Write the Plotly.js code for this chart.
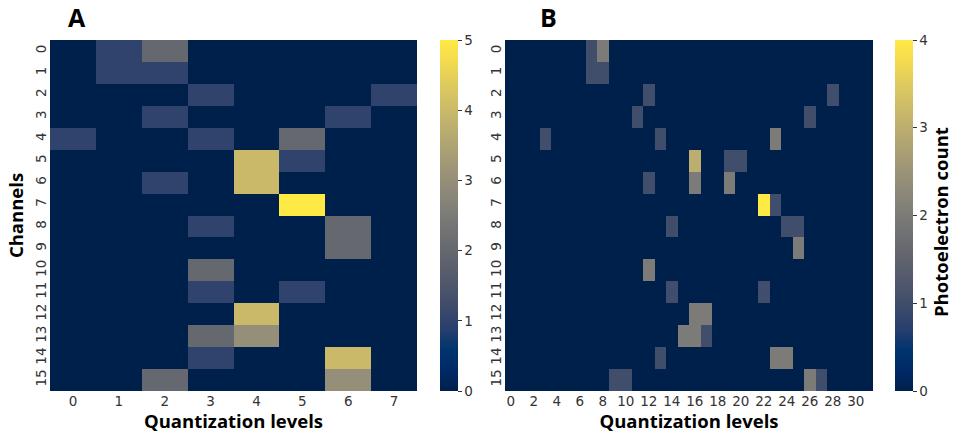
<!DOCTYPE html>
<html>
<head>
<meta charset="utf-8">
<script src="https://cdn.plot.ly/plotly-3.0.1.min.js"></script>
<style>html,body{margin:0;padding:0;background:#fff}#chart{width:954px;height:442px}</style>
</head>
<body>
<div id="chart"></div>
<script>
// ---- data ----
const channels = ["0","1","2","3","4","5","6","7","8","9","10","11","12","13","14","15"];
const levelsA = [0,1,2,3,4,5,6,7];
const levelsB = Array.from({length:32},(_,i)=>i);
const ticksB = [0,2,4,6,8,10,12,14,16,18,20,22,24,26,28,30];

// Panel A: photoelectron counts [channel][level 0..7]
const countsA = [
  [0,1,2,0,0,0,0,0],
  [0,1,1,0,0,0,0,0],
  [0,0,0,1,0,0,0,1],
  [0,0,1,0,0,0,1,0],
  [1,0,0,1,0,2,0,0],
  [0,0,0,0,4,1,0,0],
  [0,0,1,0,4,0,0,0],
  [0,0,0,0,0,5,0,0],
  [0,0,0,1,0,0,2,0],
  [0,0,0,0,0,0,2,0],
  [0,0,0,2,0,0,0,0],
  [0,0,0,1,0,1,0,0],
  [0,0,0,0,4,0,0,0],
  [0,0,0,2,3,0,0,0],
  [0,0,0,1,0,0,4,0],
  [0,0,2,0,0,0,3,0]
];

// Panel B: photoelectron counts [channel][level 0..31]
const countsB = [
  [0,0,0,0,0,0,0,1,2,0,0,0,0,0,0,0,0,0,0,0,0,0,0,0,0,0,0,0,0,0,0,0],
  [0,0,0,0,0,0,0,1,1,0,0,0,0,0,0,0,0,0,0,0,0,0,0,0,0,0,0,0,0,0,0,0],
  [0,0,0,0,0,0,0,0,0,0,0,0,1,0,0,0,0,0,0,0,0,0,0,0,0,0,0,0,1,0,0,0],
  [0,0,0,0,0,0,0,0,0,0,0,1,0,0,0,0,0,0,0,0,0,0,0,0,0,0,1,0,0,0,0,0],
  [0,0,0,1,0,0,0,0,0,0,0,0,0,1,0,0,0,0,0,0,0,0,0,2,0,0,0,0,0,0,0,0],
  [0,0,0,0,0,0,0,0,0,0,0,0,0,0,0,0,3,0,0,1,1,0,0,0,0,0,0,0,0,0,0,0],
  [0,0,0,0,0,0,0,0,0,0,0,0,1,0,0,0,2,0,0,2,0,0,0,0,0,0,0,0,0,0,0,0],
  [0,0,0,0,0,0,0,0,0,0,0,0,0,0,0,0,0,0,0,0,0,0,4,1,0,0,0,0,0,0,0,0],
  [0,0,0,0,0,0,0,0,0,0,0,0,0,0,1,0,0,0,0,0,0,0,0,0,1,1,0,0,0,0,0,0],
  [0,0,0,0,0,0,0,0,0,0,0,0,0,0,0,0,0,0,0,0,0,0,0,0,0,2,0,0,0,0,0,0],
  [0,0,0,0,0,0,0,0,0,0,0,0,2,0,0,0,0,0,0,0,0,0,0,0,0,0,0,0,0,0,0,0],
  [0,0,0,0,0,0,0,0,0,0,0,0,0,0,1,0,0,0,0,0,0,0,1,0,0,0,0,0,0,0,0,0],
  [0,0,0,0,0,0,0,0,0,0,0,0,0,0,0,0,2,2,0,0,0,0,0,0,0,0,0,0,0,0,0,0],
  [0,0,0,0,0,0,0,0,0,0,0,0,0,0,0,2,2,1,0,0,0,0,0,0,0,0,0,0,0,0,0,0],
  [0,0,0,0,0,0,0,0,0,0,0,0,0,1,0,0,0,0,0,0,0,0,0,2,2,0,0,0,0,0,0,0],
  [0,0,0,0,0,0,0,0,0,1,1,0,0,0,0,0,0,0,0,0,0,0,0,0,0,0,2,1,0,0,0,0]
];

// ---- styling ----
const W = 954, H = 442;
const tickFont = {family:"DejaVu Sans", size:13.5, color:"#333"};
const boldFont = {family:"Open Sans", size:18.5, color:"#000", weight:700};
const yTop = 1 - 40/H, yBot = 1 - 391/H;

const traceA = {
  type:"heatmap", z: countsA, x: levelsA, y: channels,
  xaxis:"x", yaxis:"y", coloraxis:"coloraxis"
};
const traceB = {
  type:"heatmap", z: countsB, x: levelsB, y: channels,
  xaxis:"x2", yaxis:"y2", coloraxis:"coloraxis2"
};

const cbCommon = {
  thickness:18, len:(391-40)/H, lenmode:"fraction", y:yBot, yanchor:"bottom",
  xanchor:"left", xpad:0, ypad:0, outlinewidth:0, ticks:"outside", ticklen:4, tickwidth:1,
  tickcolor:"#333", tickfont:tickFont
};

const layout = {
  width:W, height:H,
  margin:{l:0,r:0,t:0,b:0},
  paper_bgcolor:"#fff", plot_bgcolor:"#fff",
  font:{family:"DejaVu Sans"},
  xaxis:{domain:[50/W,417/W], anchor:"y", tickvals:levelsA, ticks:"", showgrid:false, zeroline:false,
         tickfont:tickFont, title:{text:"Quantization levels", font:boldFont, standoff:4}},
  yaxis:{domain:[yBot,yTop], anchor:"x", type:"category", autorange:"reversed", ticks:"", showgrid:false,
         tickangle:-90, tickfont:tickFont, title:{text:"Channels", font:boldFont, standoff:4}},
  xaxis2:{domain:[505/W,873/W], anchor:"y2", tickvals:ticksB, ticks:"", showgrid:false, zeroline:false,
         tickfont:tickFont, title:{text:"Quantization levels", font:boldFont, standoff:4}},
  yaxis2:{domain:[yBot,yTop], anchor:"x2", type:"category", autorange:"reversed", ticks:"", showgrid:false,
         tickangle:-90, tickfont:tickFont},
  coloraxis:{colorscale:"Cividis", cmin:0, cmax:5,
    colorbar:Object.assign({}, cbCommon, {x:440/W, tickvals:[0,1,2,3,4,5]})},
  coloraxis2:{colorscale:"Cividis", cmin:0, cmax:4,
    colorbar:Object.assign({}, cbCommon, {x:895/W, tickvals:[0,1,2,3,4]})},
  annotations:[
    {text:"A", xref:"paper", yref:"paper", x:66/W, y:1-17/H, xanchor:"left", yanchor:"middle",
     showarrow:false, font:{family:"Open Sans", size:25, color:"#000", weight:700}},
    {text:"B", xref:"paper", yref:"paper", x:538/W, y:1-17/H, xanchor:"left", yanchor:"middle",
     showarrow:false, font:{family:"Open Sans", size:25, color:"#000", weight:700}},
    {text:"Photoelectron count", xref:"paper", yref:"paper", x:940/W, y:1-222/H, xanchor:"center", yanchor:"middle",
     textangle:-90, showarrow:false, font:boldFont}
  ]
};

Plotly.newPlot("chart", [traceA, traceB], layout, {staticPlot:true, displayModeBar:false});
</script>
</body>
</html>
